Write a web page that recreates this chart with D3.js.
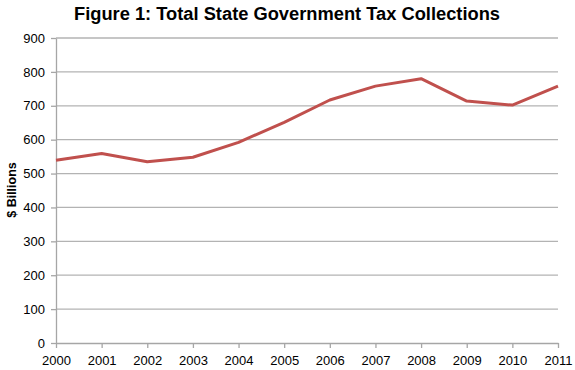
<!DOCTYPE html>
<html>
<head>
<meta charset="utf-8">
<script src="https://cdn.jsdelivr.net/npm/d3@7"></script>
<style>
  body { margin: 0; background: #fff; }
  svg text { font-family: "Liberation Sans", Arial, Helvetica, sans-serif; }
</style>
</head>
<body>
<svg id="chart" width="575" height="370"></svg>
<script>
// state tax collections, $ billions
const years = [2000, 2001, 2002, 2003, 2004, 2005, 2006, 2007, 2008, 2009, 2010, 2011];
const taxes = [539, 559, 535, 548, 592, 651, 717, 758, 780, 714, 702, 758];
const yTicks = [0, 100, 200, 300, 400, 500, 600, 700, 800, 900];

const svg = d3.select('#chart');
const margin = { left: 56, right: 17, top: 38, bottom: 27 };
const width = 575 - margin.left - margin.right,
    height = 370 - margin.top - margin.bottom;

const x = d3.scaleLinear().domain([2000, 2011]).range([0, width]);
const y = d3.scaleLinear().domain([0, 900]).range([height, 0]);

const g = svg.append('g').attr('transform', `translate(${margin.left},${margin.top})`);

// gridlines
g.append('g')
    .selectAll('line')
    .data(yTicks.filter(d => d > 0))
    .join('line')
    .attr('x1', 0)
    .attr('x2', width)
    .attr('y1', d => y(d))
    .attr('y2', d => y(d))
    .attr('stroke', '#b3b3b3')
    .attr('stroke-width', 1.3);

const yAxis = g.append('g')
    .call(d3.axisLeft(y).tickValues(yTicks).tickSize(5).tickPadding(6).tickSizeOuter(0));
const xAxis = g.append('g')
    .attr('transform', `translate(0,${height})`)
    .call(d3.axisBottom(x).tickValues(years).tickFormat(d3.format('d')).tickSize(5).tickPadding(8).tickSizeOuter(0));

[yAxis, xAxis].forEach(a => {
    a.selectAll('path, line').attr('stroke', '#a6a6a6').attr('stroke-width', 1.3);
    a.selectAll('text').attr('fill', '#000').attr('font-size', 13)
        .style('font-family', '"Liberation Sans", Arial, sans-serif');
});

const line = d3.line()
    .x((d, i) => x(years[i]))
    .y(d => y(d));

g.append('path')
    .datum(taxes)
    .attr('d', line)
    .attr('fill', 'none')
    .attr('stroke', '#c0504d')
    .attr('stroke-width', 3)
    .attr('stroke-linejoin', 'round');

svg.append('text')
    .attr('x', 287)
    .attr('y', 20)
    .attr('text-anchor', 'middle')
    .attr('font-size', 18.3)
    .attr('font-weight', 'bold')
    .text('Figure 1: Total State Government Tax Collections');

svg.append('text')
    .attr('transform', 'translate(16,190) rotate(-90)')
    .attr('text-anchor', 'middle')
    .attr('font-size', 12.5)
    .attr('font-weight', 'bold')
    .text('$ Billions');
</script>
</body>
</html>
